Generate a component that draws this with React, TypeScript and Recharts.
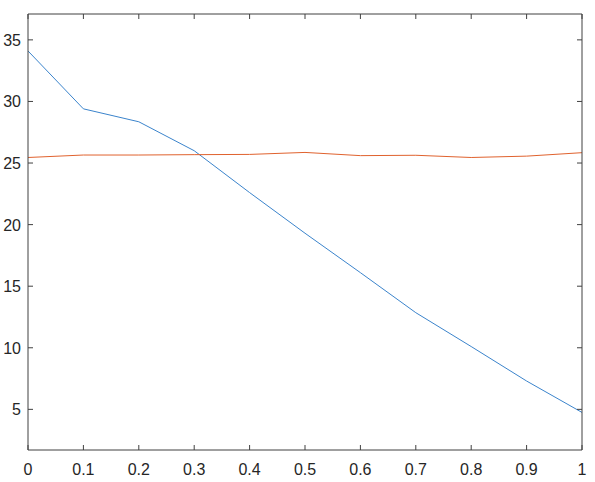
import { LineChart, Line, XAxis, YAxis } from "recharts";

const xValues = [0, 0.1, 0.2, 0.3, 0.4, 0.5, 0.6, 0.7, 0.8, 0.9, 1];
const blueValues = [34.1, 29.4, 28.35, 26.0, 22.6, 19.3, 16.1, 12.85, 10.1, 7.3, 4.75];
const orangeValues = [25.45, 25.65, 25.65, 25.68, 25.7, 25.86, 25.6, 25.63, 25.45, 25.56, 25.84];

const xTicks = [0, 0.1, 0.2, 0.3, 0.4, 0.5, 0.6, 0.7, 0.8, 0.9, 1];
const yTicks = [5, 10, 15, 20, 25, 30, 35];

const data = xValues.map((x, i) => ({
  x,
  blue: blueValues[i],
  orange: orangeValues[i],
}));

const axisColor = "#404040";
const labelColor = "#262626";
const fontFamily = "Liberation Sans, Arial, sans-serif";
const TICK_LEN = 5;
const X_MARGIN = 18;
const Y_MARGIN = 7;

// tick mark pointing into the plot + label
const BottomTick = (props: any) => {
  const { x, y, payload } = props;
  const axisY = y - X_MARGIN;
  return (
    <g>
      <line x1={x} x2={x} y1={axisY} y2={axisY - TICK_LEN} stroke={axisColor} />
      <text x={x} y={y + 7} textAnchor="middle" fill={labelColor} fontSize={16} fontFamily={fontFamily}>
        {String(payload.value)}
      </text>
    </g>
  );
};

const LeftTick = (props: any) => {
  const { x, y, payload } = props;
  const axisX = x + Y_MARGIN;
  return (
    <g>
      <line x1={axisX} x2={axisX + TICK_LEN} y1={y} y2={y} stroke={axisColor} />
      <text x={x} y={y + 6} textAnchor="end" fill={labelColor} fontSize={16} fontFamily={fontFamily}>
        {String(payload.value)}
      </text>
    </g>
  );
};

const TopTick = (props: any) => {
  const { x, y } = props;
  const axisY = y + 2;
  return <line x1={x} x2={x} y1={axisY} y2={axisY + TICK_LEN} stroke={axisColor} />;
};

const RightTick = (props: any) => {
  const { x, y } = props;
  const axisX = x - 2;
  return <line x1={axisX} x2={axisX - TICK_LEN} y1={y} y2={y} stroke={axisColor} />;
};

export default function App() {
  return (
    <div style={{ position: "absolute", left: 0, top: 0, width: 595, height: 482, background: "#fff" }}>
      <LineChart
        width={595}
        height={482}
        data={data}
        margin={{ top: 4, right: 3, left: 0, bottom: 0 }}
      >
        <XAxis
          dataKey="x"
          type="number"
          domain={[0, 1]}
          ticks={xTicks}
          allowDataOverflow
          height={32}
          stroke={axisColor}
          tickLine={false}
          tickSize={0}
          tickMargin={X_MARGIN}
          tick={<BottomTick />}
          interval={0}
        />
        <XAxis
          xAxisId="top"
          dataKey="x"
          type="number"
          orientation="top"
          domain={[0, 1]}
          ticks={xTicks}
          allowDataOverflow
          height={10}
          stroke={axisColor}
          tickLine={false}
          tickSize={0}
          tickMargin={2}
          tick={<TopTick />}
          interval={0}
        />
        <YAxis
          type="number"
          domain={[1.7, 37.1]}
          ticks={yTicks}
          allowDataOverflow
          width={28}
          stroke={axisColor}
          tickLine={false}
          tickSize={0}
          tickMargin={Y_MARGIN}
          tick={<LeftTick />}
          interval={0}
        />
        <YAxis
          yAxisId="right"
          orientation="right"
          type="number"
          domain={[1.7, 37.1]}
          ticks={yTicks}
          allowDataOverflow
          width={10}
          stroke={axisColor}
          tickLine={false}
          tickSize={0}
          tickMargin={2}
          tick={<RightTick />}
          interval={0}
        />
        <Line
          type="linear"
          dataKey="blue"
          stroke="#3b84cc"
          strokeWidth={1}
          dot={false}
          isAnimationActive={false}
        />
        <Line
          type="linear"
          dataKey="orange"
          stroke="#e0622e"
          strokeWidth={1}
          dot={false}
          isAnimationActive={false}
        />
      </LineChart>
    </div>
  );
}
